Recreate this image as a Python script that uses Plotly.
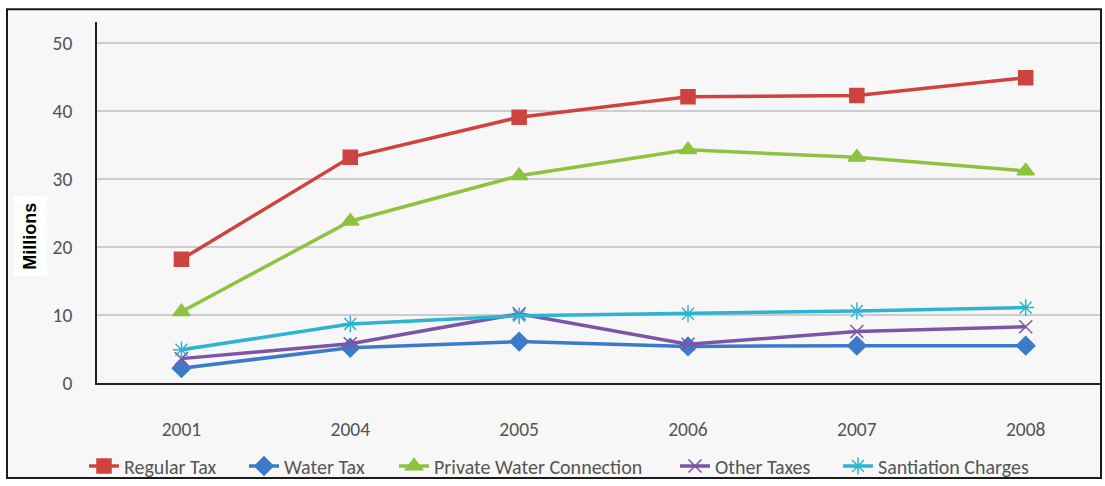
import plotly.graph_objects as go

# Collection by tax head, in millions
years = ["2001", "2004", "2005", "2006", "2007", "2008"]
regular_tax = [18.2, 33.2, 39.1, 42.1, 42.3, 44.9]
water_tax = [2.2, 5.2, 6.1, 5.4, 5.5, 5.5]
private_water_connection = [10.5, 23.8, 30.5, 34.3, 33.2, 31.2]
other_taxes = [3.6, 5.8, 10.2, 5.7, 7.6, 8.3]
sanitation_charges = [4.9, 8.7, 9.9, 10.2, 10.6, 11.1]

series_names = ["Regular Tax", "Water Tax", "Private Water Connection",
                "Other Taxes", "Santiation Charges"]
y_ticks = [0, 10, 20, 30, 40, 50]

W, H = 1105, 486
L, R, T, B = 97, 5, 22, 99
PW, PH = W - L - R, H - T - B

def px_x(px):
    return (px - L) / PW

def px_y(py):
    return (H - B - py) / PH

FONT = "Carlito, Lato, Open Sans, sans-serif"

styles = [
    dict(color="#CF433E", symbol="square", size=14),
    dict(color="#3B7BC9", symbol="diamond", size=14),
    dict(color="#8DC33F", symbol="triangle-up", size=15),
    dict(color="#7D55A6", symbol="x-thin-open", size=13),
    dict(color="#2DB4D0", symbol="asterisk-open", size=14),
]
values = [regular_tax, water_tax, private_water_connection, other_taxes,
          sanitation_charges]
# left edge of each legend entry's line sample
legend_x = [82, 242, 392, 673, 836]

fig = go.Figure()
for i, (name, vals, st) in enumerate(zip(series_names, values, styles)):
    lg = "legend" if i == 0 else f"legend{i + 1}"
    fig.add_trace(go.Scatter(
        x=years, y=vals, name=name, mode="lines+markers",
        line=dict(color=st["color"], width=3.5),
        marker=dict(symbol=st["symbol"], size=st["size"], color=st["color"],
                    line=dict(color=st["color"], width=1.5)),
        legend=lg,
    ))

legend_common = dict(
    orientation="h", xref="container", yref="container",
    yanchor="middle", y=1 - 466 / H, bgcolor="rgba(0,0,0,0)",
    font=dict(family=FONT, size=20, color="#555555"),
    itemwidth=30, tracegroupgap=0,
)
legends = {}
for i, lx in enumerate(legend_x):
    key = "legend" if i == 0 else f"legend{i + 1}"
    legends[key] = dict(legend_common, x=(lx + 2) / W, xanchor="left")

fig.update_layout(
    width=W, height=H,
    margin=dict(l=L, r=R, t=T, b=B),
    paper_bgcolor="white",
    plot_bgcolor="rgba(0,0,0,0)",
    showlegend=True,
    **legends,
    xaxis=dict(
        type="category", range=[-0.5, 5.44],
        showgrid=False, showline=True, linecolor="#222222", linewidth=2,
        ticks="", ticklabelstandoff=28,
        tickfont=dict(family=FONT, size=19.5, color="#555555"),
        zeroline=False,
    ),
    yaxis=dict(
        range=[0, 53.1], tickvals=y_ticks,
        showgrid=True, gridcolor="#CDCDCD", gridwidth=2,
        showline=True, linecolor="#222222", linewidth=1.5,
        ticks="", ticklabelstandoff=19,
        tickfont=dict(family=FONT, size=19.5, color="#555555"),
        zeroline=False,
    ),
    shapes=[dict(
        type="rect", xref="paper", yref="paper", layer="below",
        x0=px_x(7), x1=px_x(1101), y0=px_y(483), y1=px_y(9),
        fillcolor="#F7F7F7", line=dict(color="#1A1A1A", width=2),
    )],
    annotations=[dict(
        text="<b>Millions</b>", xref="paper", yref="paper",
        x=px_x(30), y=px_y(239), xanchor="center", yanchor="middle",
        textangle=-90, showarrow=False,
        font=dict(family="Liberation Sans, Arial, sans-serif", size=18,
                  color="black"),
        bgcolor="white", borderpad=6,
    )],
)

fig.write_html("out.html")
